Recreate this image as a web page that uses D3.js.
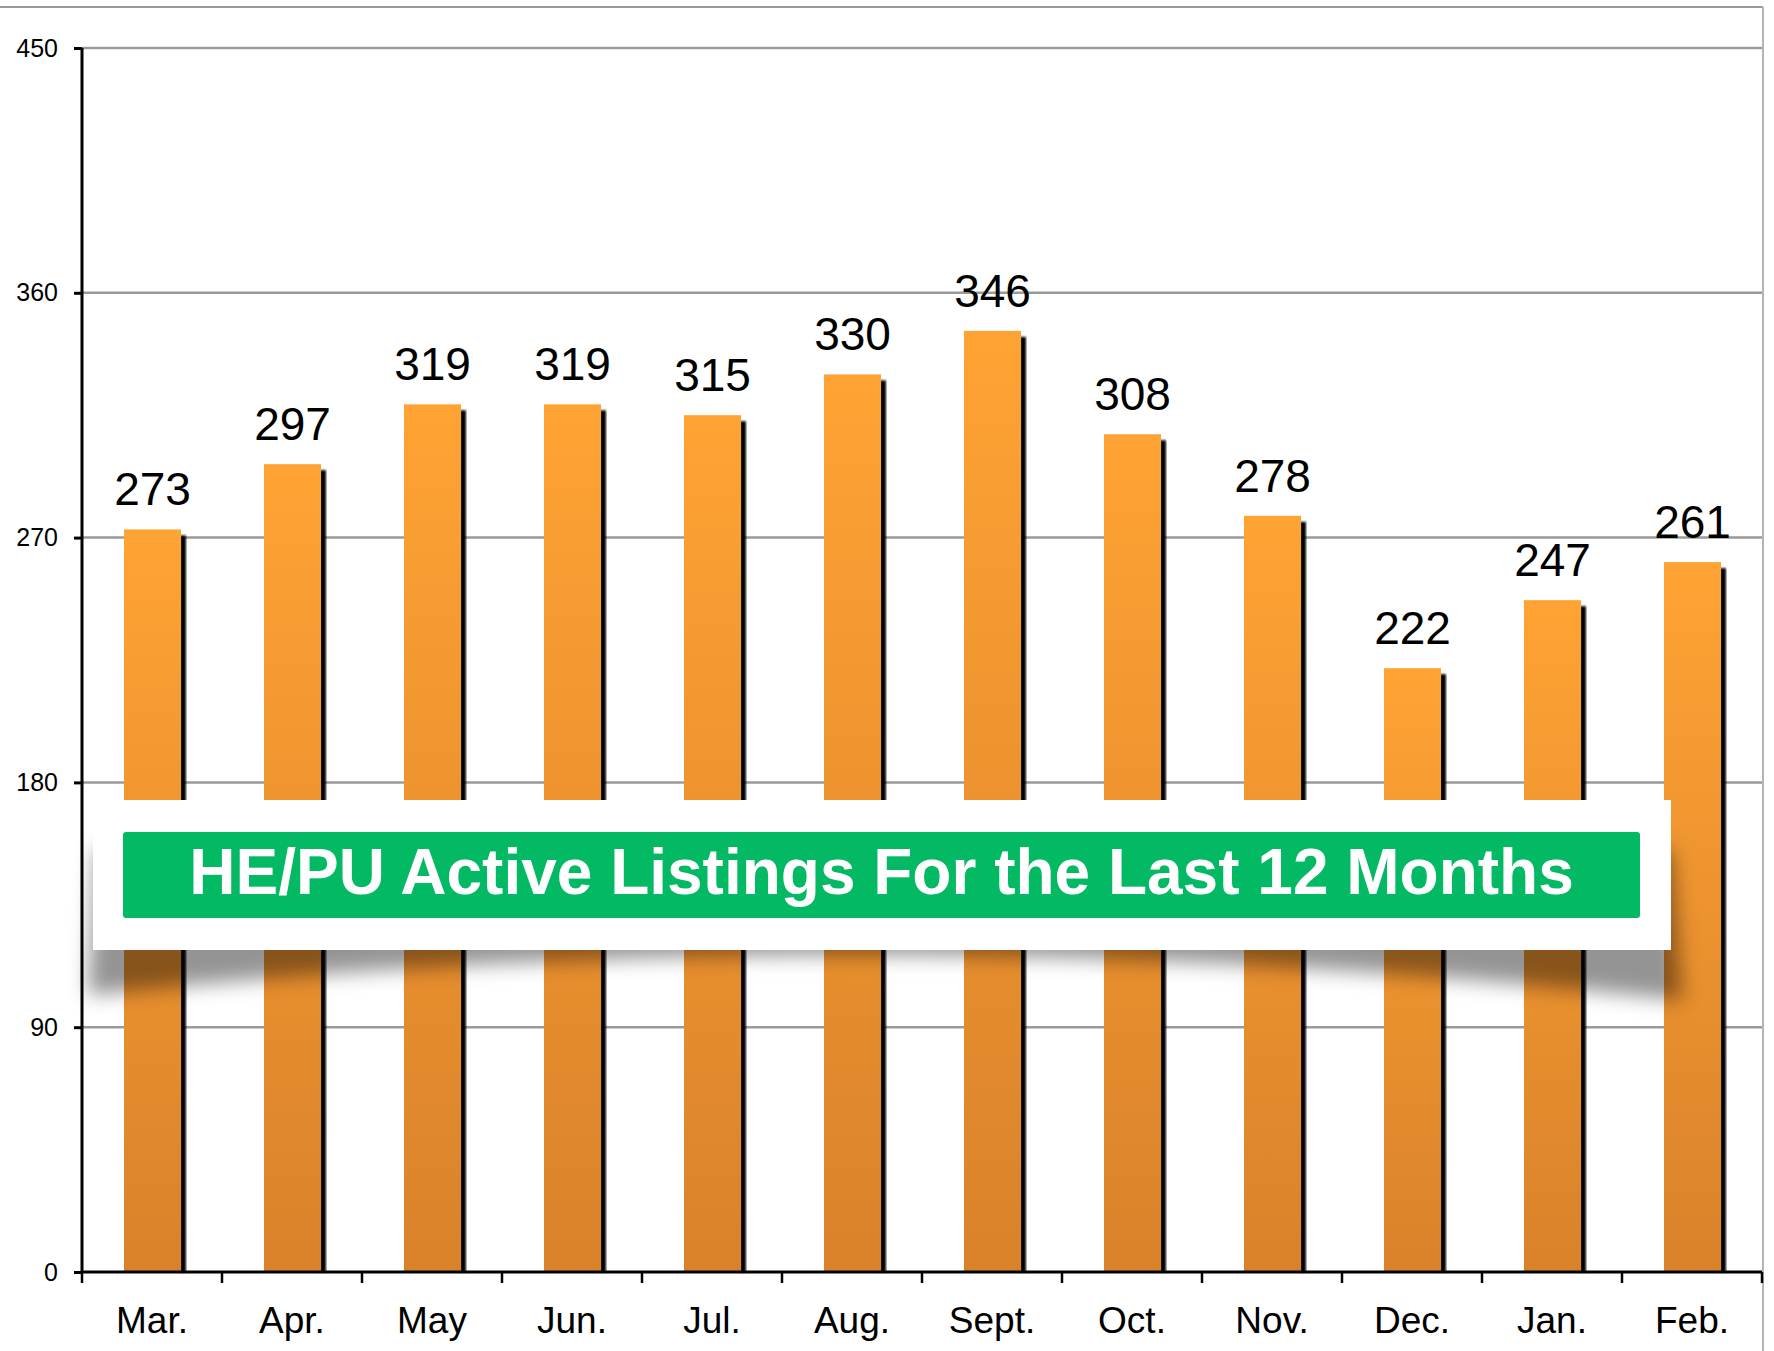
<!DOCTYPE html>
<html>
<head>
<meta charset="utf-8">
<script src="https://cdn.jsdelivr.net/npm/d3@7"></script>
<style>
body{margin:0;background:#fff;font-family:"Liberation Sans",Arial,sans-serif;}
</style>
</head>
<body>
<script>
document.addEventListener("DOMContentLoaded",()=>{

//data
const months=["Mar.","Apr.","May","Jun.","Jul.","Aug.","Sept.","Oct.","Nov.","Dec.","Jan.","Feb."]
const listings=[273,297,319,319,315,330,346,308,278,222,247,261]
const yTicks=[0,90,180,270,360,450]
const title="HE/PU Active Listings For the Last 12 Months"

//constants
const w=1774
const h=1351
const left=82, right=1762, top=48, bottom=1272

const svg=d3.select("body")
            .append("svg")
            .attr("width",w)
            .attr("height",h)

const defs=svg.append("defs")
const grad=defs.append("linearGradient")
    .attr("id","barGrad")
    .attr("x1",0).attr("y1",0).attr("x2",0).attr("y2",1)
grad.append("stop").attr("offset","0%").attr("stop-color","#ffa334")
grad.append("stop").attr("offset","100%").attr("stop-color","#d9822a")

defs.append("filter").attr("id","soft")
    .append("feGaussianBlur").attr("stdDeviation",1.2)
defs.append("filter").attr("id","bannerShadow")
    .attr("x","-10%").attr("y","-50%").attr("width","120%").attr("height","200%")
    .append("feGaussianBlur").attr("stdDeviation",10)

//scales
const x=d3.scaleBand().domain(months).range([left,right]).paddingInner(0).paddingOuter(0)
const y=d3.scaleLinear().domain([0,450]).range([bottom,top])
const barW=57

//frame
svg.append("line").attr("x1",0).attr("x2",1763).attr("y1",7).attr("y2",7)
    .attr("stroke","#9a9a9a").attr("stroke-width",2)
svg.append("line").attr("x1",1763).attr("x2",1763).attr("y1",7).attr("y2",h)
    .attr("stroke","#b5b5b5").attr("stroke-width",2)

//grid
svg.append("g").selectAll("line")
    .data(yTicks.filter(d=>d>0))
    .enter()
    .append("line")
    .attr("x1",left).attr("x2",right)
    .attr("y1",d=>y(d)).attr("y2",d=>y(d))
    .attr("stroke","#9a9a9a").attr("stroke-width",2.5)

//bars
const bar=svg.append("g").selectAll("g")
    .data(months)
    .enter()
    .append("g")
    .attr("transform",(d,i)=>"translate("+(x(d)+(x.bandwidth()-barW)/2+0.5)+",0)")

bar.append("rect")
    .attr("x",barW-1)
    .attr("y",(d,i)=>y(listings[i])+6)
    .attr("width",6)
    .attr("height",(d,i)=>bottom-y(listings[i])-6)
    .attr("fill","#000")
    .attr("filter","url(#soft)")

bar.append("rect")
    .attr("x",0)
    .attr("y",(d,i)=>y(listings[i]))
    .attr("width",barW)
    .attr("height",(d,i)=>bottom-y(listings[i]))
    .attr("fill","url(#barGrad)")

bar.append("text")
    .attr("x",barW/2)
    .attr("y",(d,i)=>y(listings[i])-24)
    .attr("text-anchor","middle")
    .style("font-size","46px")
    .attr("fill","#000")
    .text((d,i)=>listings[i])

//y axis
const yAxis=d3.axisLeft(y).tickValues(yTicks).tickSize(8).tickPadding(16)
const gy=svg.append("g").attr("transform","translate("+left+",0)").call(yAxis)
gy.select(".domain").attr("stroke","#000").attr("stroke-width",3).attr("d","M0,"+top+"V"+bottom)
gy.selectAll(".tick line").attr("stroke","#000").attr("stroke-width",3)
gy.selectAll(".tick text").style("font-size","25px").style("font-family","Liberation Sans, Arial, sans-serif").attr("fill","#000")

//x axis
const gx=svg.append("g")
gx.append("line").attr("x1",left).attr("x2",right).attr("y1",bottom).attr("y2",bottom)
    .attr("stroke","#000").attr("stroke-width",3)
gx.selectAll(".xt")
    .data(months.concat(["end"]))
    .enter()
    .append("line")
    .attr("class","xt")
    .attr("x1",(d,i)=>i<months.length?x(d):right)
    .attr("x2",(d,i)=>i<months.length?x(d):right)
    .attr("y1",bottom).attr("y2",bottom+11)
    .attr("stroke","#000").attr("stroke-width",2.5)
gx.selectAll("text")
    .data(months)
    .enter()
    .append("text")
    .attr("x",d=>x(d)+x.bandwidth()/2)
    .attr("y",1333)
    .attr("text-anchor","middle")
    .style("font-size","37px")
    .attr("fill","#000")
    .text(d=>d)

//banner
const banner=svg.append("g")
banner.append("path")
    .attr("d","M96,850 L88,995 Q880,912 1682,1000 L1672,850 Z")
    .attr("fill","rgba(0,0,0,0.42)")
    .attr("filter","url(#bannerShadow)")
banner.append("rect")
    .attr("x",93).attr("y",800).attr("width",1578).attr("height",150)
    .attr("fill","#fff")
banner.append("rect")
    .attr("x",123).attr("y",832).attr("width",1517).attr("height",86)
    .attr("rx",3)
    .attr("fill","#04b964")
banner.append("text")
    .attr("x",881.5).attr("y",894)
    .attr("text-anchor","middle")
    .style("font-size","64px")
    .style("font-weight","bold")
    .attr("fill","#fff")
    .text(title)

})
</script>
</body>
</html>
